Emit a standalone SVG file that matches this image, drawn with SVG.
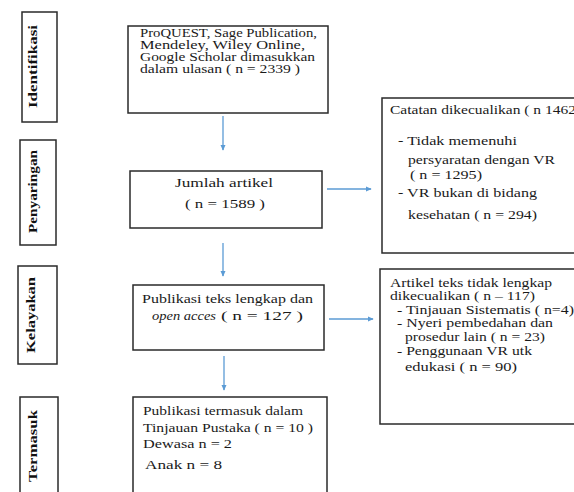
<svg xmlns="http://www.w3.org/2000/svg" width="574" height="492" viewBox="0 0 574 492">
<style>
.box{fill:#fff;stroke:#2a2a2a;stroke-width:1.5}
.t{font-family:'Liberation Serif','DejaVu Serif','Times New Roman',serif;font-size:13px;fill:#1a1a1a}
.sm{font-size:11.5px}
.s{font-family:'Liberation Serif','DejaVu Serif','Times New Roman',serif;font-size:12px;font-weight:bold;fill:#111}
.c{stroke:#5b9bd5;stroke-width:1.3;fill:none;marker-end:url(#ah)}
</style>
<defs>
<marker id="ah" viewBox="0 0 8 8" refX="7" refY="4" markerWidth="6" markerHeight="6" markerUnits="userSpaceOnUse" orient="auto">
<path d="M0,0.5 L8,4 L0,7.5 Z" fill="#5b9bd5"/>
</marker>
</defs>
<rect width="574" height="492" fill="#fff"/>
<g id="stage-identifikasi">
<rect class="box" x="22" y="12" width="35" height="110"/>
<text class="s" transform="translate(37,108) rotate(-90)" textLength="83" lengthAdjust="spacingAndGlyphs">Identifikasi</text>
</g>
<g id="stage-penyaringan">
<rect class="box" x="20" y="140" width="36" height="105"/>
<text class="s" transform="translate(37,233) rotate(-90)" textLength="83" lengthAdjust="spacingAndGlyphs">Penyaringan</text>
</g>
<g id="stage-kelayakan">
<rect class="box" x="18" y="266" width="39" height="98"/>
<text class="s" transform="translate(35,353) rotate(-90)" textLength="76" lengthAdjust="spacingAndGlyphs">Kelayakan</text>
</g>
<g id="stage-termasuk">
<rect class="box" x="20" y="397" width="38" height="100"/>
<text class="s" transform="translate(37,482) rotate(-90)" textLength="72" lengthAdjust="spacingAndGlyphs">Termasuk</text>
</g>
<g id="node-sources">
<rect class="box" x="128" y="26" width="200" height="87"/>
<text class="t sm" x="140" y="37" textLength="177" lengthAdjust="spacingAndGlyphs">ProQUEST, Sage Publication,</text>
<text class="t sm" x="140" y="49" textLength="165" lengthAdjust="spacingAndGlyphs">Mendeley, Wiley Online,</text>
<text class="t sm" x="140" y="61" textLength="175" lengthAdjust="spacingAndGlyphs">Google Scholar dimasukkan</text>
<text class="t sm" x="140" y="73" textLength="160" lengthAdjust="spacingAndGlyphs">dalam ulasan ( n = 2339 )</text>
</g>
<g id="node-jumlah">
<rect class="box" x="130" y="171" width="192" height="57"/>
<text class="t" x="175" y="187" textLength="98" lengthAdjust="spacingAndGlyphs">Jumlah artikel</text>
<text class="t" x="185" y="208" textLength="80" lengthAdjust="spacingAndGlyphs">( n = 1589 )</text>
</g>
<g id="node-publikasi">
<rect class="box" x="133" y="285" width="191" height="65"/>
<text class="t" x="142" y="303" textLength="171" lengthAdjust="spacingAndGlyphs">Publikasi teks lengkap dan</text>
<text class="t" x="152" y="320"><tspan font-style="italic" textLength="64" lengthAdjust="spacingAndGlyphs">open acces</tspan><tspan x="221" textLength="82" lengthAdjust="spacingAndGlyphs">( n = 127 )</tspan></text>
</g>
<g id="node-termasuk">
<rect class="box" x="133" y="397" width="194" height="100"/>
<text class="t" x="143" y="415" textLength="160" lengthAdjust="spacingAndGlyphs">Publikasi termasuk dalam</text>
<text class="t" x="143" y="432" textLength="170" lengthAdjust="spacingAndGlyphs">Tinjauan Pustaka ( n = 10 )</text>
<text class="t" x="143" y="448" textLength="89" lengthAdjust="spacingAndGlyphs">Dewasa n = 2</text>
<text class="t" x="145" y="469" textLength="77" lengthAdjust="spacingAndGlyphs">Anak n  = 8</text>
</g>
<g id="node-catatan">
<rect class="box" x="382" y="98" width="200" height="155"/>
<text class="t" x="390" y="114" textLength="186" lengthAdjust="spacingAndGlyphs">Catatan dikecualikan ( n 1462</text>
<text class="t" x="398" y="145" textLength="119" lengthAdjust="spacingAndGlyphs">- Tidak memenuhi</text>
<text class="t" x="408" y="164" textLength="147" lengthAdjust="spacingAndGlyphs">persyaratan dengan VR</text>
<text class="t" x="410" y="179" textLength="72" lengthAdjust="spacingAndGlyphs">( n = 1295)</text>
<text class="t" x="398" y="197" textLength="139" lengthAdjust="spacingAndGlyphs">- VR bukan di bidang</text>
<text class="t" x="408" y="219" textLength="129" lengthAdjust="spacingAndGlyphs">kesehatan ( n = 294)</text>
</g>
<g id="node-artikel">
<rect class="box" x="380" y="269" width="202" height="155"/>
<text class="t sm" x="390" y="287" textLength="162" lengthAdjust="spacingAndGlyphs">Artikel teks tidak lengkap</text>
<text class="t sm" x="390" y="300" textLength="145" lengthAdjust="spacingAndGlyphs">dikecualikan ( n – 117)</text>
<text class="t sm" x="397" y="314" textLength="177" lengthAdjust="spacingAndGlyphs">- Tinjauan Sistematis ( n=4)</text>
<text class="t sm" x="397" y="327" textLength="156" lengthAdjust="spacingAndGlyphs">- Nyeri pembedahan dan</text>
<text class="t sm" x="405" y="341" textLength="140" lengthAdjust="spacingAndGlyphs">prosedur lain ( n = 23)</text>
<text class="t sm" x="397" y="355" textLength="135" lengthAdjust="spacingAndGlyphs">- Penggunaan VR utk</text>
<text class="t sm" x="405" y="371" textLength="112" lengthAdjust="spacingAndGlyphs">edukasi ( n = 90)</text>
</g>
<g id="connectors">
<line class="c" x1="223" y1="116" x2="223" y2="150"/>
<line class="c" x1="223" y1="243" x2="223" y2="276"/>
<line class="c" x1="224" y1="356" x2="224" y2="390"/>
<line class="c" x1="327" y1="189" x2="371" y2="189"/>
<line class="c" x1="329" y1="319" x2="373" y2="319"/>
</g>
</svg>
